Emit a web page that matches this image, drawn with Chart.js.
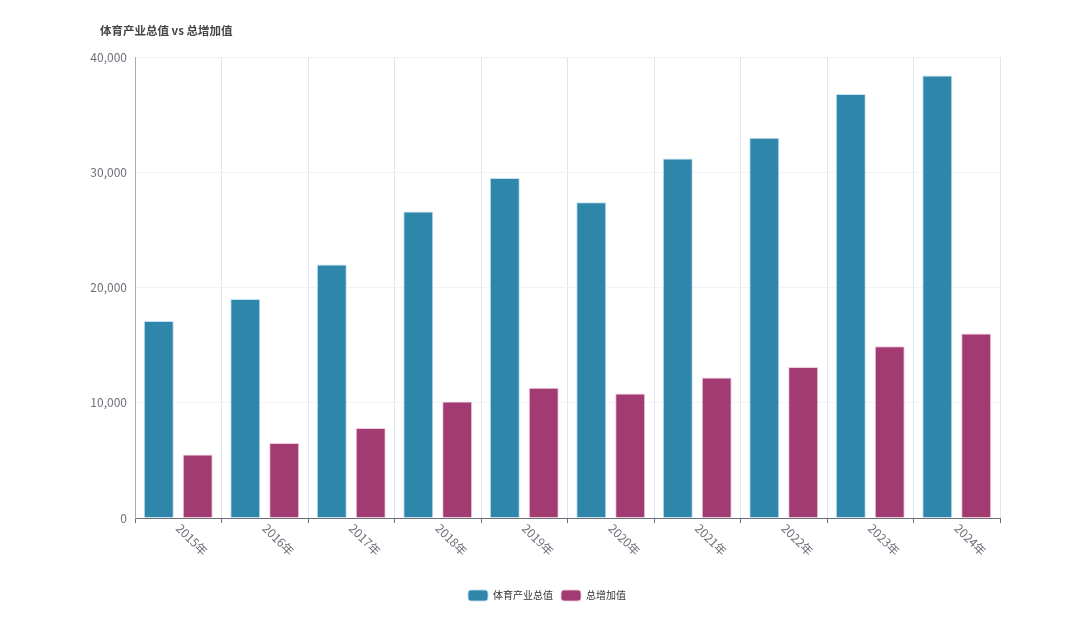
<!DOCTYPE html>
<html>
<head>
<meta charset="utf-8">
<script src="https://cdn.jsdelivr.net/npm/chart.js@4/dist/chart.umd.min.js"></script>
<style>
    html, body { margin: 0; padding: 0; background: #ffffff; }
    #wrap { width: 1080px; height: 621px; }
</style>
</head>
<body>
<div id="wrap"><canvas id="sportChart"></canvas></div>
<script>
// ================= DATA =================
const years = ['2015年', '2016年', '2017年', '2018年', '2019年', '2020年', '2021年', '2022年', '2023年', '2024年'];
const totalOutput = [17100, 19000, 22000, 26600, 29500, 27400, 31200, 33000, 36800, 38400];
const addedValue = [5500, 6500, 7800, 10100, 11300, 10800, 12200, 13100, 14900, 16000];
const yTicks = [0, 10000, 20000, 30000, 40000];
const chartTitle = '体育产业总值 vs 总增加值';

const FONT = "'Noto Sans CJK SC', 'Noto Sans', sans-serif";
const LABEL_COLOR = '#6e7079';

// title in the top-left corner (left of the plot area, like the original)
const titlePlugin = {
    id: 'cornerTitle',
    afterDraw(chart) {
        const ctx = chart.ctx;
        ctx.save();
        ctx.font = 'bold 11.5px ' + FONT;
        ctx.fillStyle = '#464646';
        ctx.textAlign = 'left';
        ctx.textBaseline = 'middle';
        ctx.fillText(chartTitle, 100, 31);
        ctx.restore();
    }
};

// legend sits centred under the whole page, a little right of the plot centre
const legendShift = {
    id: 'legendShift',
    afterLayout(chart) {
        if (chart.legend) {
            chart.legend.left += 7;
            chart.legend.right += 7;
        }
    }
};

// x labels rotated clockwise (start at the category centre, run down-right)
const xLabelPlugin = {
    id: 'xLabels',
    afterDraw(chart) {
        const ctx = chart.ctx;
        const scale = chart.scales.x;
        ctx.save();
        ctx.font = '12px ' + FONT;
        ctx.fillStyle = LABEL_COLOR;
        ctx.textAlign = 'left';
        ctx.textBaseline = 'middle';
        years.forEach((label, i) => {
            const x = scale.getPixelForTick(i);
            ctx.save();
            ctx.translate(x, scale.top + 8);
            ctx.rotate(Math.PI / 4);
            ctx.fillText(label, 0, 0);
            ctx.restore();
        });
        ctx.restore();
    }
};

const ctx = document.getElementById('sportChart').getContext('2d');

new Chart(ctx, {
    type: 'bar',
    data: {
        labels: years,
        datasets: [{
            label: '体育产业总值',
            data: totalOutput,
            backgroundColor: '#2e86ab',
            borderColor: 'rgba(190,220,240,0.9)',
            borderWidth: 1,
            categoryPercentage: 0.9,
            barPercentage: 0.77
        }, {
            label: '总增加值',
            data: addedValue,
            backgroundColor: '#a23b72',
            borderColor: 'rgba(235,200,220,0.9)',
            borderWidth: 1,
            categoryPercentage: 0.9,
            barPercentage: 0.77
        }]
    },
    options: {
        responsive: true,
        maintainAspectRatio: false,
        animation: false,
        layout: { padding: { top: 57, left: 80, right: 80, bottom: 10 } },
        plugins: {
            title: { display: false },
            legend: {
                position: 'bottom',
                labels: {
                    color: '#333333',
                    font: { family: FONT, size: 10 },
                    boxWidth: 20,
                    boxHeight: 11,
                    padding: 8,
                    useBorderRadius: true,
                    borderRadius: 3
                }
            },
            tooltip: { enabled: false }
        },
        scales: {
            x: {
                grid: {
                    color: '#e0e6f1',
                    tickColor: LABEL_COLOR,
                    tickLength: 5,
                    offset: true
                },
                border: { color: LABEL_COLOR },
                ticks: { display: false },
                afterFit(scale) { scale.height = 64; }
            },
            y: {
                min: 0,
                max: 40000,
                afterBuildTicks(scale) {
                    scale.ticks = yTicks.map(v => ({ value: v }));
                },
                grid: { color: '#f3f3f5', drawTicks: false },
                border: { color: '#a8acb4' },
                ticks: {
                    color: LABEL_COLOR,
                    padding: 8,
                    font: { family: FONT, size: 12 },
                    callback: v => v.toLocaleString('en-US')
                },
                afterFit(scale) { scale.width = 55; }
            }
        }
    },
    plugins: [xLabelPlugin, titlePlugin, legendShift]
});
</script>
</body>
</html>
